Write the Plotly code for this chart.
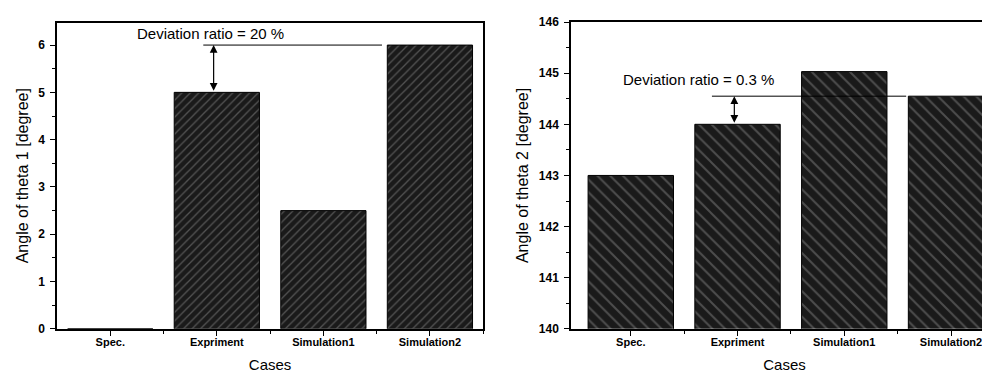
import plotly.graph_objects as go

categories = ["Spec.", "Expriment", "Simulation1", "Simulation2"]
theta1 = [0, 5, 2.5, 6]
theta2 = [143, 144, 145.03, 144.55]
dev_text1 = "Deviation ratio = 20 %"
dev_text2 = "Deviation ratio = 0.3 %"
dev_level1 = 6
dev_level2 = 144.55

xpos = list(range(len(categories)))

fig = go.Figure()

def bar(y, shape, size, fg, xa, ya):
    return go.Bar(
        x=xpos, y=y, width=0.8, xaxis=xa, yaxis=ya, showlegend=False,
        marker=dict(
            color="#1a1a1a",
            line=dict(color="black", width=1),
            pattern=dict(shape=shape, fgcolor=fg, bgcolor="#1a1a1a",
                         size=size, solidity=0.22),
        ),
    )

fig.add_trace(bar(theta1, "/", 6, "#8c8c8c", "x", "y"))
fig.add_trace(bar(theta2, "\\", 9, "#808080", "x2", "y2"))

font = "Liberation Sans, Arial, sans-serif"
xtickfont = dict(family=font, size=11, color="black", weight="bold")
ytickfont = dict(family=font, size=12, color="black", weight="bold")
titlefont = dict(family=font, size=15, color="black")
ytitlefont = dict(family=font, size=16, color="black")

common_x = dict(
    tickmode="array", tickvals=xpos, ticktext=categories,
    ticks="outside", ticklen=5, tickwidth=1, tickcolor="black",
    showline=True, linecolor="black", linewidth=1.5,
    showgrid=False, zeroline=False, tickfont=xtickfont,
    ticklabelstandoff=-3,
    title=dict(text="Cases", font=titlefont, standoff=13),
    minor=dict(tickmode="array", tickvals=[0.5, 1.5, 2.5, 3.5],
               ticks="outside", ticklen=3, tickcolor="black"),
)
common_y = dict(
    ticks="outside", ticklen=5, tickwidth=1, tickcolor="black",
    showline=True, linecolor="black", linewidth=1.5,
    showgrid=False, zeroline=False, tickfont=ytickfont, dtick=1,
    ticklabelstandoff=3,
    minor=dict(dtick=0.5, ticks="outside", ticklen=3, tickcolor="black"),
)

fig.update_layout(
    width=990, height=376,
    margin=dict(l=0, r=0, t=0, b=0),
    paper_bgcolor="white", plot_bgcolor="white",
    bargap=0.2,
    xaxis=dict(common_x, domain=[0.0495, 0.48], range=[-0.5, 3.5],
               mirror=True, anchor="y"),
    yaxis=dict(common_y, domain=[0.133, 0.979], range=[0, 6.475],
               mirror=True, anchor="x",
               title=dict(text="Angle of theta 1 [degree]", font=ytitlefont,
                          standoff=6)),
    xaxis2=dict(common_x, domain=[0.5687, 1.0], range=[-0.56, 3.44],
                mirror=True, anchor="y2"),
    yaxis2=dict(common_y, domain=[0.133, 0.9806], range=[140, 146],
                anchor="x2",
                title=dict(text="Angle of theta 2 [degree]", font=ytitlefont,
                           standoff=6)),
)

# Deviation lines
fig.add_shape(type="line", xref="x", yref="y", x0=0.873, x1=2.55,
              y0=dev_level1, y1=dev_level1, line=dict(color="black", width=1))
fig.add_shape(type="line", xref="x2", yref="y2", x0=0.76, x1=2.58,
              y0=dev_level2, y1=dev_level2, line=dict(color="black", width=1))

# Double arrows
for xr, yr, xv, y0, y1 in [("x", "y", 0.97, theta1[1], dev_level1),
                           ("x2", "y2", 0.97, theta2[1], dev_level2)]:
    fig.add_annotation(x=xv, y=y1, ax=xv, ay=y0, xref=xr, yref=yr,
                       axref=xr, ayref=yr, text="", showarrow=True,
                       arrowhead=2, startarrowhead=2, arrowside="end+start",
                       arrowsize=1.3, startarrowsize=1.3, arrowwidth=1.2,
                       arrowcolor="black")

fig.add_annotation(x=0.94, y=6.25, xref="x", yref="y",
                   text=dev_text1, showarrow=False,
                   font=dict(family=font, size=15, color="black"))
fig.add_annotation(x=0.63, y=144.875, xref="x2", yref="y2",
                   text=dev_text2, showarrow=False,
                   font=dict(family=font, size=15, color="black"))

fig.write_html("out.html")
